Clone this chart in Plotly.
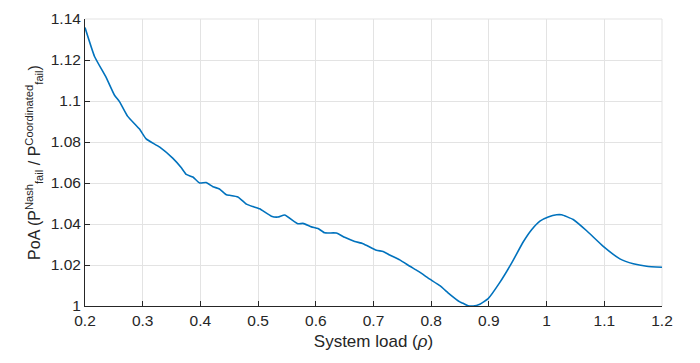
import plotly.graph_objects as go

load = [0.2, 0.2165, 0.2368, 0.2512, 0.26, 0.274, 0.2945, 0.306, 0.329, 0.352, 0.367, 0.3755,
        0.387, 0.3986, 0.41, 0.4217, 0.433, 0.445, 0.4507, 0.465, 0.4796, 0.491, 0.5027, 0.523,
        0.5345, 0.546, 0.569, 0.5778, 0.5924, 0.6038, 0.6154, 0.6357, 0.65, 0.6675, 0.6819,
        0.705, 0.7166, 0.728, 0.7455, 0.763, 0.7773, 0.7976, 0.815, 0.8323, 0.8496, 0.8554,
        0.864, 0.8727, 0.8843, 0.8987, 0.919, 0.9393, 0.9594, 0.974, 0.9884, 1.0028, 1.0173,
        1.026, 1.0461, 1.0694, 1.0982, 1.127, 1.1502, 1.1734, 1.2]
poa = [1.1358, 1.1217, 1.1114, 1.1028, 1.0996, 1.0925, 1.0863, 1.0815, 1.0776, 1.0721, 1.0674,
       1.0642, 1.0629, 1.0600, 1.0602, 1.0582, 1.0571, 1.0543, 1.0540, 1.0532, 1.0497, 1.0485,
       1.0474, 1.0438, 1.0434, 1.0444, 1.0401, 1.0403, 1.0386, 1.0378, 1.0357, 1.0356, 1.0335,
       1.0315, 1.0304, 1.0272, 1.0266, 1.0249, 1.0225, 1.0194, 1.0170, 1.0131, 1.0099, 1.0057,
       1.0020, 1.0013, 1.0001, 1.0000, 1.0009, 1.0036, 1.0115, 1.0209, 1.0312, 1.0372, 1.0414,
       1.0434, 1.0445, 1.0445, 1.0422, 1.0367, 1.0291, 1.0230, 1.0206, 1.0194, 1.0189]

x_ticks = [0.2, 0.3, 0.4, 0.5, 0.6, 0.7, 0.8, 0.9, 1.0, 1.1, 1.2]
x_labels = ["0.2", "0.3", "0.4", "0.5", "0.6", "0.7", "0.8", "0.9", "1", "1.1", "1.2"]
y_ticks = [1.0, 1.02, 1.04, 1.06, 1.08, 1.1, 1.12, 1.14]
y_labels = ["1", "1.02", "1.04", "1.06", "1.08", "1.1", "1.12", "1.14"]

fig = go.Figure()
fig.add_trace(go.Scatter(x=load, y=poa, mode="lines",
                         line=dict(color="#0072BD", width=1.6, shape="spline", smoothing=0.4),
                         showlegend=False))

fam = "Liberation Sans, Arial, sans-serif"
tick_font = dict(family=fam, size=15.5, color="#262626")
grid_col = "#e3e3e3"

fig.update_layout(
    width=700, height=363,
    margin=dict(l=85, r=38, t=10, b=57),
    paper_bgcolor="white", plot_bgcolor="white",
    font=tick_font,
    xaxis=dict(range=[0.2, 1.2], tickvals=x_ticks, ticktext=x_labels,
               showgrid=True, gridcolor=grid_col, gridwidth=1,
               showline=True, linecolor="#262626", linewidth=1,
               ticks="inside", ticklen=5, tickcolor="#262626",
               zeroline=False, tickfont=tick_font,
               title=dict(text="System load (<i>ρ</i>)",
                          font=dict(size=17, color="#262626", family=fam), standoff=7)),
    yaxis=dict(range=[1.0, 1.14], tickvals=y_ticks, ticktext=y_labels,
               showgrid=True, gridcolor=grid_col, gridwidth=1,
               showline=True, linecolor="#262626", linewidth=1,
               ticks="inside", ticklen=5, tickcolor="#262626",
               zeroline=False, tickfont=tick_font,
               title=dict(text="PoA (P<sup>Nash</sup><sub>fail</sub> / P<sup>Coordinated</sup><sub>fail</sub>)",
                          font=dict(size=16, color="#262626", family=fam), standoff=6)),
)

# light box edges (top/right) in grid colour
fig.add_shape(type="line", xref="paper", yref="paper", x0=0, x1=1, y0=1, y1=1,
              line=dict(color=grid_col, width=1), layer="below")
fig.add_shape(type="line", xref="paper", yref="paper", x0=1, x1=1, y0=0, y1=1,
              line=dict(color=grid_col, width=1), layer="below")

fig.write_html("out.html")
